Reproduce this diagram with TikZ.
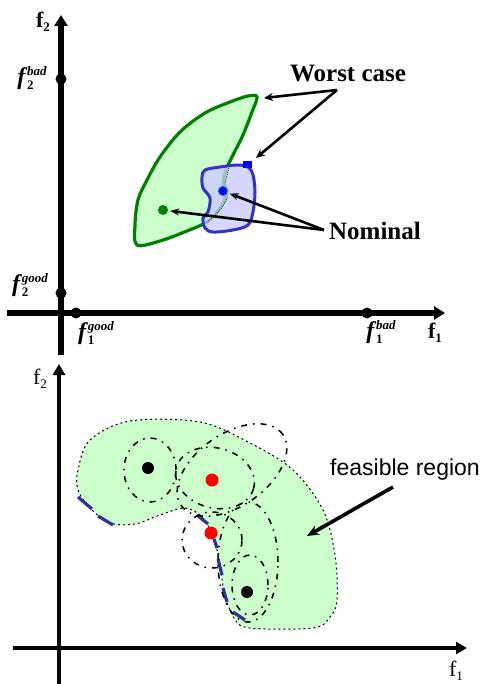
\documentclass[tikz,border=0pt]{standalone}
\usepackage{fontspec}
\setmainfont{Liberation Serif}
\newfontfamily\sansf{Liberation Sans}
\usetikzlibrary{arrows.meta}
\definecolor{lgreen}{HTML}{CCFFCC}
\definecolor{dgreen}{HTML}{008000}
\definecolor{lblue}{HTML}{CCCCFF}
\definecolor{mblue}{HTML}{3333CC}
\definecolor{nblue}{HTML}{333399}
\newcommand\fss[2]{\textit{f}\rlap{\raisebox{-5pt}{\fontsize{13}{13}\selectfont\bfseries #1}}\raisebox{9pt}{\fontsize{13}{13}\selectfont\bfseries\itshape #2}}
\newcommand\fbs[1]{f\raisebox{-4pt}{\fontsize{13}{13}\selectfont #1}}
\begin{document}
\begin{tikzpicture}[x=1pt,y=-1pt,
  axisT/.style={line width=5.5pt,-{Triangle[length=11pt,width=13pt]}},
  axisB/.style={line width=4pt,-{Triangle[length=11pt,width=12pt]}},
  tdot/.style={circle,fill=black,inner sep=0pt,minimum size=11pt},
  gdotn/.style={circle,fill=dgreen,inner sep=0pt,minimum size=10pt},
  bdotn/.style={circle,fill=blue,draw=blue!60!cyan,line width=1pt,inner sep=0pt,minimum size=9pt},
  rdotn/.style={circle,fill=red,inner sep=0pt,minimum size=13pt},
  kdotn/.style={circle,fill=black,inner sep=0pt,minimum size=12pt},
  warr/.style={line width=2.6pt,-{Stealth[length=9pt,width=8pt]}},
  narr/.style={line width=2.6pt,-{Stealth[length=9pt,width=7pt]},shorten >=2pt},
  farr/.style={line width=3.6pt,-{Stealth[length=12pt,width=10pt]}},
  bold/.style={font=\fontsize{25}{25}\selectfont\bfseries},
  tlab/.style={font=\fontsize{24}{24}\selectfont\bfseries,inner sep=0pt},
  blab/.style={font=\fontsize{22}{22}\selectfont,inner sep=0pt},
  cont/.style={line width=1.5pt,dash pattern=on 6pt off 6pt on 1.5pt off 6pt},
  bseg/.style={nblue,line width=3.2pt}]
\useasboundingbox (0,0) rectangle (483,684);
\fill[white] (0,0) rectangle (483,684);

% ---------- top panel ----------
\fill[lgreen] plot[smooth cycle,tension=0.55] coordinates {(257,97) (252,112) (243,135) (233,155) (226,170) (223,185) (225,198) (218,211) (207,222) (187,231) (160,241) (137,245) (135,225) (138,200) (147,180) (160,157) (180,132) (205,113) (230,102) (248,96)};
\draw[dgreen,line width=3.2pt] plot[smooth cycle,tension=0.55] coordinates {(257,97) (252,112) (243,135) (233,155) (226,170) (223,185) (225,198) (218,211) (207,222) (187,231) (160,241) (137,245) (135,225) (138,200) (147,180) (160,157) (180,132) (205,113) (230,102) (248,96)};
\fill[lblue,opacity=0.8] plot[smooth cycle,tension=0.55] coordinates {(205,170) (220,167) (237,165) (248,167) (253,175) (255,192) (253,212) (248,225) (233,230) (213,232) (205,228) (203,218) (208,212) (210,198) (203,188) (202,177)};
\draw[mblue,line width=3pt] plot[smooth cycle,tension=0.55] coordinates {(205,170) (220,167) (237,165) (248,167) (253,175) (255,192) (253,212) (248,225) (233,230) (213,232) (205,228) (203,218) (208,212) (210,198) (203,188) (202,177)};
\fill[blue] (243,161) rectangle (252,168);
\draw[dgreen,line width=1pt,densely dotted] plot[smooth,tension=0.55] coordinates {(229,168) (225,185) (227,198) (219,211) (207,222)};

\draw[axisT] (7,313) coordinate (xa0) -- (445,313) coordinate (xa1);
\draw[axisT] (61,355) coordinate (ya0) -- (61,15) coordinate (ya1);

\node[tdot] (t1) at (61,79) {};
\node[tdot] (t2) at (61,293) {};
\node[tdot] (t3) at (76,313) {};
\node[tdot] (t4) at (367,313) {};

\node[tlab] (l1) at (32,78) {\fss{2}{bad}};
\node[tlab] (l2) at (30,285) {\fss{2}{good}};
\node[tlab] (l3) at (96,333) {\fss{1}{good}};
\node[tlab] (l4) at (381,332) {\fss{1}{bad}};
\node[tlab,font=\fontsize{22}{22}\selectfont\bfseries] (ax2) at (43,22) {\fbs{\bfseries 2}};
\node[tlab,font=\fontsize{22}{22}\selectfont\bfseries] (ax1) at (435,333) {\fbs{\bfseries 1}};

\node[gdotn] (gn) at (163,210) {};
\node[bdotn] (bn) at (223,191) {};

\node[bold,inner sep=0pt] (wt) at (348,74) {Worst case};
\coordinate (wc) at (337,90);
\coordinate (wt1) at (264,98);
\coordinate (wt2) at (256,158);
\draw[warr] (wc) -- (wt1);
\draw[warr] (wc) -- (wt2);

\node[bold,inner sep=0pt] (nt) at (375,231) {Nominal};
\coordinate (nc) at (324,230);
\draw[narr] (nc) -- (bn);
\draw[narr] (nc) -- (gn);

% ---------- bottom panel ----------
\filldraw[fill=lgreen,draw=black,line width=1pt,dash pattern=on 2pt off 3pt] plot[smooth cycle,tension=0.55] coordinates {(78,470) (90,440) (130,421) (200,422) (250,443) (293,470) (323,510) (335,555) (337,600) (330,617) (313,628) (250,628) (234,618) (224,592) (220,563) (214,540) (203,518) (185,508) (160,515) (135,524) (110,523) (90,508) (78,490)};

\draw[bseg] (78,497) -- (92,509);
\draw[bseg] (98,516) -- (113,525);
\draw[bseg] (197,515) -- (208,524);
\draw[bseg] (214,539) -- (217,548);
\draw[bseg] (218,559) -- (222,575);
\draw[bseg] (223,588) -- (227,602);
\draw[bseg] (233,612) -- (245,620);

\draw[cont] (150,470) ellipse [x radius=26pt,y radius=32pt];
\draw[cont,rotate around={-15:(215,478)}] (215,478) ellipse [x radius=40pt,y radius=30pt];
\draw[cont,rotate around={35:(232,470)}] (232,470) ellipse [x radius=62pt,y radius=36pt];
\draw[cont] (212,540) ellipse [x radius=30pt,y radius=28pt];
\draw[cont] (250,585) ellipse [x radius=18pt,y radius=30pt];
\draw[cont] (248,562) ellipse [x radius=30pt,y radius=60pt];

\node[kdotn] (ka) at (148,468) {};
\node[kdotn] (kb) at (247,592) {};
\node[rdotn] (ra) at (212,480) {};
\node[rdotn] (rb) at (211,533) {};

\draw[axisB] (13,648) coordinate (bx0) -- (467,648) coordinate (bx1);
\draw[axisB] (59,684) coordinate (by0) -- (59,364) coordinate (by1);

\node[blab] (bl2) at (40,379) {\fbs{2}};
\node[blab] (bl1) at (456,671) {\fbs{1}};

\node[font=\sansf\fontsize{23}{23}\selectfont,inner sep=0pt] (fr) at (405,470) {feasible region};
\coordinate (fa) at (393,487);
\coordinate (fb) at (307,536);
\draw[farr] (fa) -- (fb);
\end{tikzpicture}
\end{document}
